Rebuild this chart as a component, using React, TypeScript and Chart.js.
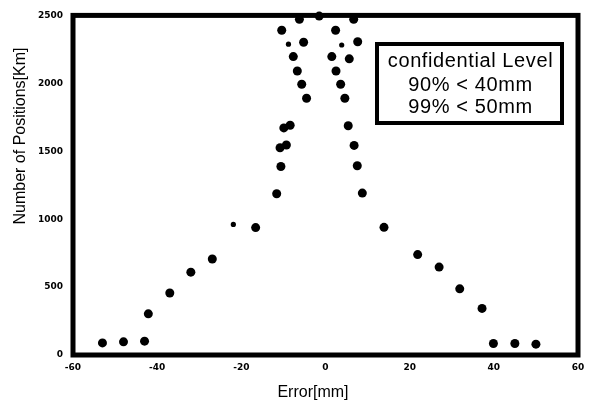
import React, { useEffect, useRef } from "react";
import { Chart, registerables } from "chart.js";

Chart.register(...registerables);

// Large markers
const leftX = [-6.2, -1.5, -10.4, -5.2, -7.65, -6.7, -5.65, -4.5, -9.9, -8.4, -10.8, -9.3, -10.6, -11.6, -16.6, -26.9, -32.0, -37.0, -42.1, -43.0, -48.0, -53.0];
const leftY = [2471, 2495, 2391, 2302, 2197, 2091, 1993, 1890, 1672, 1691, 1526, 1546, 1388, 1187, 938, 707, 610, 456, 303, 102, 97, 89];
const rightX = [6.7, 2.4, 7.65, 1.5, 5.65, 2.5, 3.6, 4.6, 5.4, 6.8, 7.55, 8.75, 13.9, 21.9, 27.0, 31.9, 37.2, 39.9, 45.0, 50.0];
const rightY = [2471, 2391, 2306, 2197, 2180, 2091, 1993, 1890, 1688, 1543, 1393, 1192, 940, 739, 647, 487, 343, 85, 85, 80];
// Small markers
const smallX = [-8.8, -21.9, 3.85];
const smallY = [2288, 961, 2282];

const xTicks = [-60, -40, -20, 0, 20, 40, 60];
const yTicks = [0, 500, 1000, 1500, 2000, 2500];
const legendLines = ["confidential Level", "90% < 40mm", "99% < 50mm"];
const xTitle = "Error[mm]";
const yTitle = "Number of Positions[Km]";

const toPts = (xs: number[], ys: number[]) => xs.map((x, i) => ({ x, y: ys[i] }));

const decorPlugin = {
  id: "decor",
  afterDatasetsDraw(chart: any) {
    const { ctx, chartArea } = chart;
    const { left, top, right, bottom } = chartArea;
    ctx.save();
    ctx.strokeStyle = "#000";
    ctx.lineWidth = 5;
    ctx.strokeRect(left, top, right - left, bottom - top);
    ctx.restore();
  },
  afterDraw(chart: any) {
    const { ctx } = chart;
    ctx.save();
    // legend box
    const bx = 377, by = 44, bw = 185, bh = 79;
    ctx.fillStyle = "#fff";
    ctx.fillRect(bx, by, bw, bh);
    ctx.strokeStyle = "#000";
    ctx.lineWidth = 4;
    ctx.strokeRect(bx, by, bw, bh);
    ctx.fillStyle = "#000";
    ctx.font = '20px "Liberation Sans", Arial, sans-serif';
    try { (ctx as any).letterSpacing = "0.6px"; } catch (e) {}
    ctx.textAlign = "center";
    ctx.textBaseline = "middle";
    const ly = [61, 85, 107];
    legendLines.forEach((t, i) => ctx.fillText(t, bx + bw / 2 + 1, ly[i]));
    try { (ctx as any).letterSpacing = "0px"; } catch (e) {}
    // axis titles
    ctx.font = '16px "Liberation Sans", Arial, sans-serif';
    ctx.fillText(xTitle, 313, 393);
    ctx.translate(21, 136);
    ctx.rotate(-Math.PI / 2);
    ctx.fillText(yTitle, 0, 0);
    ctx.restore();
  },
};

export default function App() {
  const ref = useRef<HTMLCanvasElement | null>(null);
  useEffect(() => {
    if (!ref.current) return;
    const chart = new Chart(ref.current, {
      type: "scatter",
      data: {
        datasets: [
          {
            data: [...toPts(leftX, leftY), ...toPts(rightX, rightY)],
            pointRadius: 4.5,
            pointHoverRadius: 4.5,
            pointBackgroundColor: "#000",
            pointBorderColor: "#000",
            pointBorderWidth: 0,
            clip: false as any,
          },
          {
            data: toPts(smallX, smallY),
            pointRadius: 2.6,
            pointHoverRadius: 2.6,
            pointBackgroundColor: "#000",
            pointBorderColor: "#000",
            pointBorderWidth: 0,
          },
        ],
      },
      options: {
        responsive: false,
        animation: false,
        events: [],
        layout: { padding: { top: 10, right: 18, left: 0, bottom: 0 } },
        plugins: { legend: { display: false }, tooltip: { enabled: false } },
        scales: {
          x: {
            type: "linear",
            min: xTicks[0],
            max: xTicks[xTicks.length - 1],
            afterFit: (s: any) => { s.height = 52; },
            afterBuildTicks: (s: any) => { s.ticks = xTicks.map((v) => ({ value: v })); },
            grid: { display: false, drawTicks: false },
            border: { display: false },
            ticks: { color: "#000", font: { family: "DejaVu Sans", size: 9, weight: "bold" }, padding: 7, maxRotation: 0, autoSkip: false, callback: (v: any) => String(v) },
          },
          y: {
            type: "linear",
            min: yTicks[0],
            max: yTicks[yTicks.length - 1],
            afterFit: (s: any) => { s.width = 73; },
            afterBuildTicks: (s: any) => { s.ticks = yTicks.map((v) => ({ value: v })); },
            grid: { display: false, drawTicks: false },
            border: { display: false },
            ticks: { color: "#000", font: { family: "DejaVu Sans", size: 9, weight: "bold" }, padding: 10, autoSkip: false, callback: (v: any) => String(v) },
          },
        },
      },
      plugins: [decorPlugin],
    });
    return () => chart.destroy();
  }, []);
  return (
    <div style={{ position: "fixed", left: 0, top: 0, width: 596, height: 407, background: "#fff" }}>
      <canvas ref={ref} width={596} height={407} style={{ width: 596, height: 407, display: "block" }} />
    </div>
  );
}
